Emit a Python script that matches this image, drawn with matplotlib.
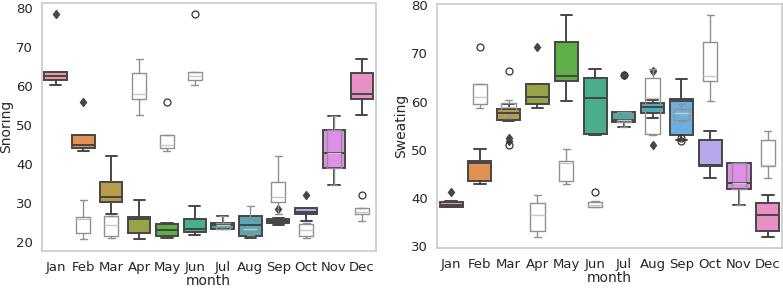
import colorsys
import numpy as np
import matplotlib
matplotlib.use("Agg")
import matplotlib.pyplot as plt
import seaborn as sns

months = ['Jan', 'Feb', 'Mar', 'Apr', 'May', 'Jun',
          'Jul', 'Aug', 'Sep', 'Oct', 'Nov', 'Dec']

# Snoring box stats
snoring_lo = [60.3, 43.3, 27.2, 20.7, 21.0, 21.8, 23.4, 21.1, 24.4, 25.3, 34.7, 52.5]
snoring_q1 = [61.5, 44.2, 30.3, 22.3, 21.6, 22.5, 23.4, 21.6, 24.8, 27.3, 38.9, 56.6]
snoring_med = [62.5, 44.9, 31.6, 26.0, 23.2, 23.3, 24.3, 24.3, 25.5, 27.6, 42.8, 57.9]
snoring_q3 = [63.5, 47.3, 35.3, 26.4, 24.7, 26.0, 25.0, 26.6, 26.0, 28.7, 48.6, 63.2]
snoring_hi = [63.5, 47.3, 42.1, 30.7, 24.9, 29.2, 26.6, 26.7, 26.2, 28.7, 52.3, 66.9]
snoring_fliers = [[78.4], [55.8], [], [], [], [], [], [], [28.6], [32.0], [], []]

# Sweating box stats
sweating_lo = [38.2, 42.9, 56.0, 58.6, 60.2, 53.0, 54.8, 56.5, 52.1, 44.1, 38.6, 31.9]
sweating_q1 = [38.2, 43.6, 56.2, 59.5, 64.3, 53.3, 55.7, 57.7, 53.0, 46.7, 41.9, 33.2]
sweating_med = [38.6, 47.2, 57.6, 60.9, 65.3, 60.8, 56.2, 58.8, 60.2, 46.9, 43.1, 36.4]
sweating_q3 = [39.2, 47.7, 58.5, 63.7, 72.3, 65.0, 57.9, 59.8, 60.5, 52.1, 47.3, 39.0]
sweating_hi = [39.3, 50.1, 59.5, 63.7, 77.9, 66.8, 57.9, 60.4, 64.6, 53.9, 47.3, 40.6]
sweating_fliers = [[41.3], [], [52.4, 51.9], [71.3], [], [], [65.6], [66.3, 51.0], [], [], [], []]


def make_stats(lo, q1, med, q3, hi, fl):
    return [dict(whislo=a, q1=b, med=c, q3=d, whishi=e, fliers=f)
            for a, b, c, d, e, f in zip(lo, q1, med, q3, hi, fl)]


sns.set_style('whitegrid')
plt.rcParams['font.family'] = ['DejaVu Sans']

pal = [sns.desaturate(c, .75) for c in sns.husl_palette(12, l=.7)]
lum = min(colorsys.rgb_to_hls(*c)[1] for c in pal) * .6
gray = (lum, lum, lum)


def draw(ax, stats, ylabel):
    lw = 1.4
    arts = ax.bxp(stats, positions=range(12), widths=0.8, patch_artist=True,
                  manage_ticks=False,
                  boxprops=dict(edgecolor=gray, linewidth=lw),
                  whiskerprops=dict(color=gray, linewidth=lw),
                  capprops=dict(color=gray, linewidth=lw),
                  medianprops=dict(color=gray, linewidth=lw),
                  flierprops=dict(marker='d', markerfacecolor=gray,
                                  markeredgecolor=gray, markersize=4.5))
    for box, c in zip(arts['boxes'], pal):
        box.set_facecolor(c)

    # second boxplot: groups in alphabetical order at positions 1..12
    order = np.argsort(months)
    ax.bxp([stats[i] for i in order], positions=range(1, 13), widths=0.5,
           manage_ticks=False,
           boxprops=dict(color='#909090', linewidth=1),
           whiskerprops=dict(color='#909090', linewidth=1),
           capprops=dict(color='#909090', linewidth=1),
           medianprops=dict(color='#c8c8c8', linewidth=1),
           flierprops=dict(marker='o', markerfacecolor='none',
                           markeredgecolor='#333333', markersize=5,
                           markeredgewidth=0.9))

    ax.set_xlim(-0.5, 11.5)
    ax.set_xticks(range(12))
    ax.set_xticklabels(months)
    ax.grid(False)
    ax.set_xlabel('month', fontsize=10, labelpad=0)
    ax.set_ylabel(ylabel, fontsize=10, labelpad=2)
    ax.tick_params(labelsize=9.5, colors='.15', pad=4)
    ax.tick_params(axis='y', pad=3)
    for s in ax.spines.values():
        s.set_color('.8')
        s.set_linewidth(1.25)


fig = plt.figure(figsize=(7.83, 2.90), dpi=100)
ax1 = fig.add_axes([41.7 / 783, (290 - 250.7) / 290, 334 / 783, 248 / 290])
ax2 = fig.add_axes([436.7 / 783, (290 - 248) / 290, 345.5 / 783, 243.7 / 290])

draw(ax1, make_stats(snoring_lo, snoring_q1, snoring_med, snoring_q3,
                     snoring_hi, snoring_fliers), 'Snoring')
draw(ax2, make_stats(sweating_lo, sweating_q1, sweating_med, sweating_q3,
                     sweating_hi, sweating_fliers), 'Sweating')

ax1.set_yticks(range(20, 81, 10))
ax2.set_yticks(range(30, 81, 10))

fig.savefig('out.png', dpi=100)
